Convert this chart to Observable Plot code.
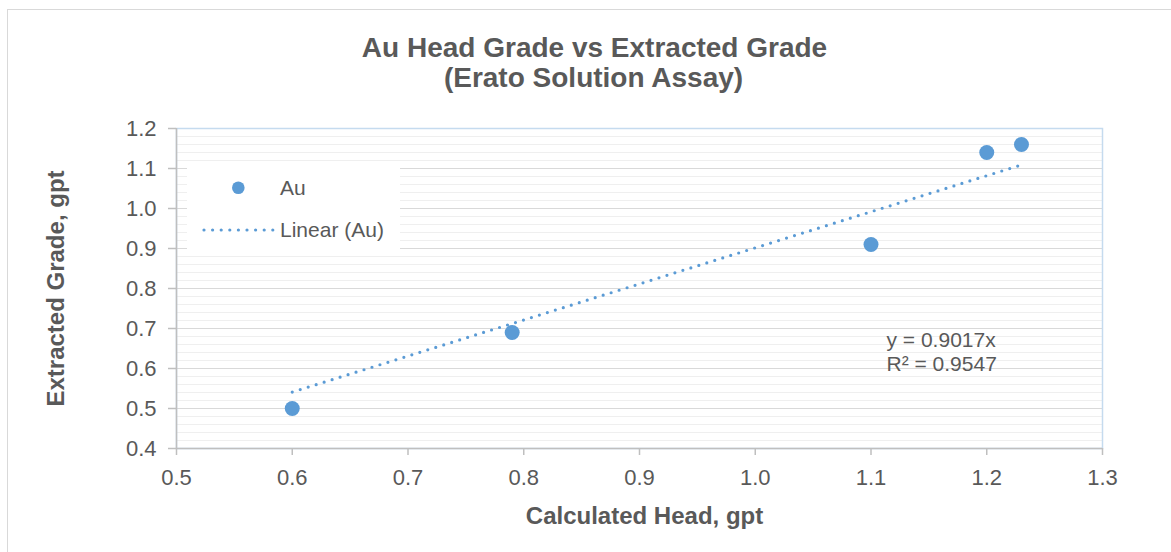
<!DOCTYPE html>
<html>
<head>
<meta charset="utf-8">
<script src="https://cdn.jsdelivr.net/npm/d3@7"></script>
<script src="https://cdn.jsdelivr.net/npm/@observablehq/plot@0.6"></script>
<style>
html, body { margin: 0; padding: 0; background: #fff; width: 1171px; height: 552px; overflow: hidden; font-family: "Liberation Sans", Arial, sans-serif; }
#wrap { position: relative; width: 1171px; height: 552px; overflow: hidden; }
#border { position: absolute; left: 7px; top: 9px; width: 1250px; height: 650px; border: 1px solid #d9d9d9; box-sizing: border-box; }
#chart { position: absolute; left: 0; top: 0; }
#legend { position: absolute; left: 187px; top: 162px; width: 213px; height: 89px; background: #fff; z-index: 2; }
</style>
</head>
<body>
<div id="wrap">
  <div id="border"></div>
  <div id="chart"></div>
  <div id="legend"></div>
</div>
<script>
// ---- data ----
const seriesName = "Au";
const calculatedHead = [0.6, 0.79, 1.1, 1.2, 1.23];
const extractedGrade = [0.5, 0.69, 0.91, 1.14, 1.16];
const trendSlope = 0.9017;
const rSquared = 0.9547;
const xTicks = [0.5, 0.6, 0.7, 0.8, 0.9, 1.0, 1.1, 1.2, 1.3];
const yTicks = [0.4, 0.5, 0.6, 0.7, 0.8, 0.9, 1.0, 1.1, 1.2];
const titleLines = ["Au Head Grade vs Extracted Grade", "(Erato Solution Assay)"];
const xTitle = "Calculated Head, gpt";
const yTitle = "Extracted Grade, gpt";

// ---- derived ----
const points = calculatedHead.map((x, i) => ({x, y: extractedGrade[i]}));
const xMin = d3.min(calculatedHead), xMax = d3.max(calculatedHead);
const trend = [xMin, xMax].map(x => ({x, y: trendSlope * x}));
const yMinor = d3.range(21, 60).filter(i => i % 5 !== 0).map(i => i / 50);

const blue = "#5b9bd5";
const textColor = "#595959";
const font = "'Liberation Sans', Arial, sans-serif";

const chart = Plot.plot({
  width: 1171,
  height: 552,
  marginLeft: 176,
  marginRight: 69,
  marginTop: 128,
  marginBottom: 104,
  style: {background: "transparent", fontFamily: font, overflow: "visible"},
  x: {domain: [0.5, 1.3]},
  y: {domain: [0.4, 1.2]},
  marks: [
    Plot.ruleY(yMinor, {stroke: "#efefef", strokeWidth: 1}),
    Plot.ruleY(yTicks, {stroke: "#d9d9d9", strokeWidth: 1}),
    Plot.frame({stroke: "#c5dbef", strokeWidth: 1.5}),
    Plot.ruleX([0.5], {stroke: "#bfbfbf", strokeWidth: 1.5}),
    Plot.ruleY([0.4], {stroke: "#bfbfbf", strokeWidth: 1.5}),
    Plot.axisX(xTicks, {tickSize: 7, tickPadding: 14, tickFormat: d => d.toFixed(1), fontSize: 22, stroke: "#bfbfbf", strokeWidth: 1.5, fill: textColor, label: null}),
    Plot.axisY(yTicks, {tickSize: 8, tickPadding: 12, tickFormat: d => d.toFixed(1), fontSize: 22, stroke: "#bfbfbf", strokeWidth: 1.5, fill: textColor, label: null}),
    Plot.line(trend, {x: "x", y: "y", stroke: blue, strokeWidth: 3.2, strokeDasharray: "0 8.35", strokeLinecap: "round"}),
    Plot.dot(points, {x: "x", y: "y", r: 7.5, fill: blue, stroke: "none"}),
    Plot.text([`y = ${trendSlope}x`], {text: d => d, frameAnchor: "top-left", dx: 710, dy: 218.7, textAnchor: "start", lineAnchor: "bottom", fontSize: 21, fill: textColor}),
    Plot.text([`R² = ${rSquared}`], {text: d => d, frameAnchor: "top-left", dx: 710, dy: 242.7, textAnchor: "start", lineAnchor: "bottom", fontSize: 21, fill: textColor}),
    Plot.text([titleLines[0]], {text: d => d, frameAnchor: "top", dx: -45, dy: -71.3, textAnchor: "middle", lineAnchor: "bottom", fontSize: 28, fontWeight: "bold", fill: textColor}),
    Plot.text([titleLines[1]], {text: d => d, frameAnchor: "top", dx: -46, dy: -41.3, textAnchor: "middle", lineAnchor: "bottom", fontSize: 28, fontWeight: "bold", fill: textColor}),
    Plot.text([xTitle], {text: d => d, frameAnchor: "bottom", dx: 5, dy: 75, textAnchor: "middle", lineAnchor: "bottom", fontSize: 24, fontWeight: "bold", fill: textColor}),
    Plot.text([yTitle], {text: d => d, frameAnchor: "left", dx: -113, dy: 0, rotate: -90, textAnchor: "middle", lineAnchor: "bottom", fontSize: 24, fontWeight: "bold", fill: textColor})
  ]
});
document.getElementById("chart").appendChild(chart);

// ---- legend (inside plot area, white box) ----
const lg = d3.select("#legend").append("svg")
  .attr("width", 213).attr("height", 89)
  .style("font-family", font);
lg.append("circle").attr("cx", 51.3).attr("cy", 25.7).attr("r", 6.3).attr("fill", blue);
lg.append("text").attr("x", 93).attr("y", 33).attr("font-size", 21).attr("fill", textColor).text(seriesName);
lg.append("line").attr("x1", 17).attr("x2", 86).attr("y1", 68).attr("y2", 68)
  .attr("stroke", blue).attr("stroke-width", 3.2).attr("stroke-dasharray", "0 8.6").attr("stroke-linecap", "round");
lg.append("text").attr("x", 93).attr("y", 75).attr("font-size", 21).attr("fill", textColor).text(`Linear (${seriesName})`);
</script>
</body>
</html>
